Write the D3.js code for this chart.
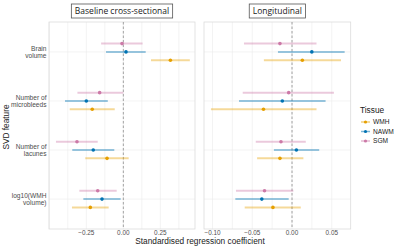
<!DOCTYPE html>
<html>
<head>
<meta charset="utf-8">
<script src="https://cdn.jsdelivr.net/npm/d3@7"></script>
<style>
  body { margin: 0; background: #fff; }
  svg { display: block; font-family: "Liberation Sans", Arial, sans-serif; }
</style>
</head>
<body>
<div id="chart"></div>
<script>
// categories (top to bottom)
const features = ["Brain\nvolume", "Number of\nmicrobleeds", "Number of\nlacunes", "log10(WMH\nvolume)"];
const tissues = ["WMH", "NAWM", "SGM"];
const tissueColors = ["#E69F00", "#0072B2", "#CC79A7"];

// baseline cross-sectional: [estimate, lower, upper] per feature, per tissue
const baseWMH  = [[0.318, 0.187, 0.449], [-0.21, -0.362, -0.058], [-0.11, -0.257, 0.036], [-0.223, -0.347, -0.099]];
const baseNAWM = [[0.018, -0.117, 0.151], [-0.25, -0.394, -0.105], [-0.203, -0.345, -0.061], [-0.144, -0.27, -0.018]];
const baseSGM  = [[-0.009, -0.15, 0.13], [-0.16, -0.31, 0.0], [-0.313, -0.455, -0.173], [-0.173, -0.297, -0.045]];

// longitudinal
const longWMH  = [[0.013, -0.0354, 0.0616], [-0.0359, -0.102, 0.0308], [-0.0152, -0.0439, 0.0143], [-0.024, -0.0595, 0.011]];
const longNAWM = [[0.0249, -0.0177, 0.0662], [-0.0122, -0.0667, 0.0422], [0.0055, -0.0228, 0.0342], [-0.038, -0.0713, -0.0042]];
const longSGM  = [[-0.0152, -0.0604, 0.0308], [-0.0042, -0.062, 0.0527], [-0.0139, -0.0456, 0.0173], [-0.0346, -0.0705, 0.0017]];

const baseTicks = [-0.25, 0, 0.25];
const longTicks = [-0.10, -0.05, 0, 0.05];

// flatten rows into one table per panel
function toRows(series) {
  const rows = [];
  tissues.forEach((t, ti) => {
    series[ti].forEach((v, fi) => {
      rows.push({ tissue: t, feature: features[fi], est: v[0], lo: v[1], hi: v[2] });
    });
  });
  return rows;
}

const panels = [
  { title: "Baseline cross-sectional", rows: toRows([baseWMH, baseNAWM, baseSGM]),
    domain: [-0.502, 0.484], range: [49, 195], ticks: baseTicks, fmt: d3.format(".2f"), step: 0.125 },
  { title: "Longitudinal", rows: toRows([longWMH, longNAWM, longSGM]),
    domain: [-0.1107, 0.0738], range: [204, 350.7], ticks: longTicks, fmt: d3.format(".2f"), step: 0.025 }
];

const W = 400, H = 246;
const panelTop = 22, panelBottom = 229;

const svg = d3.select("#chart").append("svg").attr("width", W).attr("height", H);

const y = d3.scalePoint().domain(features).range([panelTop, panelBottom]).padding(0.61);
const dodge = d3.scalePoint().domain(["SGM", "NAWM", "WMH"]).range([-8.3, 8.3]);
const color = d3.scaleOrdinal().domain(tissues).range(tissueColors);

panels.forEach(p => {
  const x = d3.scaleLinear().domain(p.domain).range(p.range);
  const g = svg.append("g");

  // grid: minor + major verticals
  const minor = d3.range(Math.ceil(p.domain[0] / p.step), Math.floor(p.domain[1] / p.step) + 1)
    .map(k => k * p.step);
  g.selectAll(".vgrid").data(minor).enter().append("line")
    .attr("x1", d => x(d)).attr("x2", d => x(d))
    .attr("y1", panelTop).attr("y2", panelBottom)
    .attr("stroke", "#ebebeb").attr("stroke-width", 0.6);
  g.selectAll(".hgrid").data(features).enter().append("line")
    .attr("x1", p.range[0]).attr("x2", p.range[1])
    .attr("y1", d => y(d)).attr("y2", d => y(d))
    .attr("stroke", "#ebebeb").attr("stroke-width", 0.6);

  // panel border
  g.append("rect")
    .attr("x", p.range[0]).attr("y", panelTop)
    .attr("width", p.range[1] - p.range[0]).attr("height", panelBottom - panelTop)
    .attr("fill", "none").attr("stroke", "#dcdcdc").attr("stroke-width", 0.8);

  // zero line
  g.append("line")
    .attr("x1", x(0)).attr("x2", x(0)).attr("y1", panelTop).attr("y2", panelBottom)
    .attr("stroke", "#8c8c8c").attr("stroke-width", 0.8).attr("stroke-dasharray", "2.5,2");

  // error bars
  g.selectAll(".ci").data(p.rows).enter().append("line")
    .attr("x1", d => x(d.lo)).attr("x2", d => x(d.hi))
    .attr("y1", d => y(d.feature) + dodge(d.tissue))
    .attr("y2", d => y(d.feature) + dodge(d.tissue))
    .attr("stroke", d => color(d.tissue)).attr("stroke-opacity", 0.4).attr("stroke-width", 2);

  // points
  g.selectAll(".pt").data(p.rows).enter().append("circle")
    .attr("cx", d => x(d.est)).attr("cy", d => y(d.feature) + dodge(d.tissue))
    .attr("r", 1.8).attr("fill", d => color(d.tissue));

  // x tick labels
  g.selectAll(".tick").data(p.ticks).enter().append("text")
    .attr("x", d => x(d)).attr("y", 235)
    .attr("text-anchor", "middle").attr("font-size", 6.4).attr("fill", "#4d4d4d")
    .text(d => p.fmt(d));

  // strip label
  const cx = (p.range[0] + p.range[1]) / 2;
  const st = g.append("text")
    .attr("x", cx).attr("y", 14.3).attr("text-anchor", "middle")
    .attr("font-family", "'Open Sans', sans-serif").attr("font-size", 8.5).attr("fill", "#1a1a1a")
    .text(p.title);
  const bb = st.node().getBBox();
  g.insert("rect", "text")
    .attr("x", bb.x - 3.5).attr("y", 4).attr("width", bb.width + 7).attr("height", 14)
    .attr("fill", "#fff").attr("stroke", "#555").attr("stroke-width", 0.8);
});

// y axis labels
features.forEach(f => {
  const lines = f.split("\n");
  const t = svg.append("text").attr("text-anchor", "end").attr("font-size", 6.6).attr("fill", "#4d4d4d");
  lines.forEach((l, i) => {
    t.append("tspan").attr("x", 46.5).attr("y", y(f) - 1 + i * 7.2).text(l);
  });
});

// axis titles
svg.append("text")
  .attr("transform", "translate(9,127) rotate(-90)")
  .attr("text-anchor", "middle").attr("font-size", 8.3).attr("fill", "#1a1a1a")
  .text("SVD feature");
svg.append("text")
  .attr("x", 200).attr("y", 244.2).attr("text-anchor", "middle")
  .attr("font-size", 8.3).attr("fill", "#1a1a1a")
  .text("Standardised regression coefficient");

// legend
const leg = svg.append("g").attr("transform", "translate(360,0)");
leg.append("text").attr("x", 0).attr("y", 113).attr("font-size", 8.3).attr("fill", "#1a1a1a").text("Tissue");
tissues.forEach((t, i) => {
  const yy = 122 + i * 9.5;
  leg.append("line").attr("x1", 1).attr("x2", 10).attr("y1", yy).attr("y2", yy)
    .attr("stroke", color(t)).attr("stroke-opacity", 0.5).attr("stroke-width", 1.5);
  leg.append("circle").attr("cx", 5.5).attr("cy", yy).attr("r", 1.6).attr("fill", color(t));
  leg.append("text").attr("x", 13).attr("y", yy + 2.3).attr("font-size", 6.6).attr("fill", "#1a1a1a").text(t);
});
</script>
</body>
</html>
